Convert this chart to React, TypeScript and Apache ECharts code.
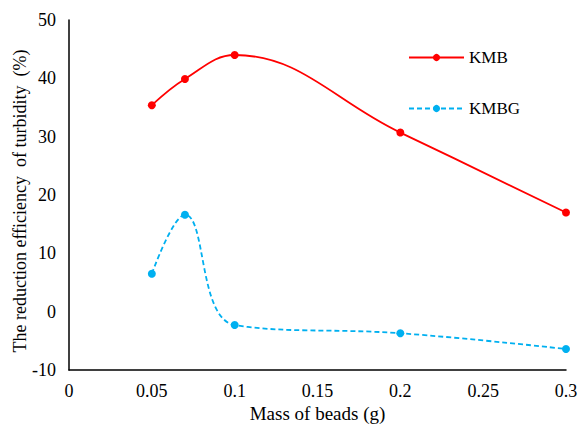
import React, { useEffect, useRef } from "react";
import * as echarts from "echarts";

const xValues = [0.05, 0.07, 0.1, 0.2, 0.3];
const kmb = [35.4, 39.9, 44.0, 30.7, 17.0];
const kmbg = [6.5, 16.6, -2.3, -3.7, -6.4];
const seriesNames = ["KMB", "KMBG"];

const font = "'Times New Roman', 'Liberation Serif', serif";

export default function App() {
  const ref = useRef<HTMLDivElement>(null);
  useEffect(() => {
    if (!ref.current) return;
    const chart = echarts.init(ref.current, null, { renderer: "svg" });
    chart.setOption({
      animation: false,
      backgroundColor: "#fff",
      textStyle: { fontFamily: font },
      grid: { left: 69, top: 20, right: 14, bottom: 59, containLabel: false, outerBoundsMode: "none" },
      legend: {
        orient: "vertical",
        left: 403,
        top: 44,
        itemGap: 34,
        itemWidth: 55,
        itemHeight: 9,
        textStyle: { fontFamily: font, fontSize: 17, color: "#000" },
        data: seriesNames,
      },
      xAxis: {
        type: "value",
        min: 0,
        max: 0.3,
        interval: 0.05,
        name: "Mass of beads (g)",
        nameLocation: "middle",
        nameGap: 34,
        nameMoveOverlap: false,
        nameTextStyle: { fontFamily: font, fontSize: 19, color: "#000" },
        axisLine: { onZero: false, lineStyle: { color: "#000", width: 1.5 } },
        axisTick: { show: false },
        splitLine: { show: false },
        axisLabel: { fontFamily: font, fontSize: 18, color: "#000", margin: 12 },
      },
      yAxis: {
        type: "value",
        min: -10,
        max: 50,
        interval: 10,
        name: "The reduction efficiency  of turbidity  (%)",
        nameLocation: "middle",
        nameGap: 40,
        nameMoveOverlap: false,
        nameTextStyle: { fontFamily: font, fontSize: 18, color: "#000", padding: [0, 12, 0, 0] },
        axisLine: { show: true, onZero: false, lineStyle: { color: "#000", width: 1.5 } },
        axisTick: { show: false },
        splitLine: { show: false },
        axisLabel: { fontFamily: font, fontSize: 18, color: "#000", margin: 13 },
      },
      series: [
        {
          name: seriesNames[0],
          type: "line",
          smooth: 0.4,
          data: xValues.map((x, i) => [x, kmb[i]]),
          symbol: "circle",
          symbolSize: 8,
          itemStyle: { color: "#FF0000" },
          lineStyle: { color: "#FF0000", width: 1.8 },
        },
        {
          name: seriesNames[1],
          type: "line",
          smooth: 0.4,
          data: xValues.map((x, i) => [x, kmbg[i]]),
          symbol: "circle",
          symbolSize: 8,
          itemStyle: { color: "#00B0F0" },
          lineStyle: { color: "#00B0F0", width: 1.8, type: [5, 3] },
        },
      ],
    });
    return () => chart.dispose();
  }, []);
  return <div ref={ref} style={{ width: 580, height: 429, position: "absolute", left: 0, top: 0 }} />;
}
